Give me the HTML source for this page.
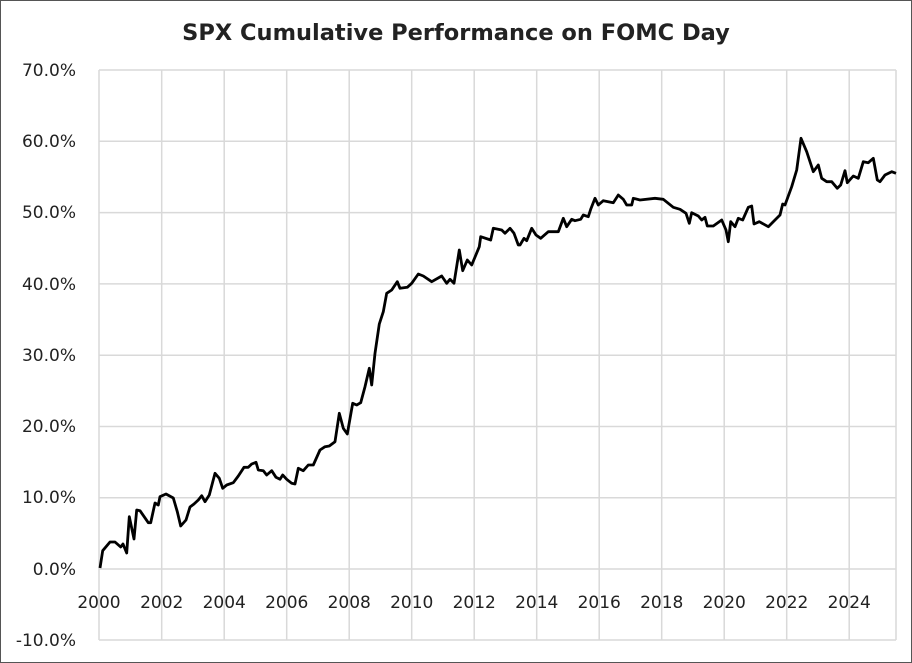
<!DOCTYPE html>
<html><head><meta charset="utf-8"><style>
html,body{margin:0;padding:0;background:#fff}
svg{display:block}
text{font-family:"DejaVu Sans","Liberation Sans",sans-serif;fill:#222}
</style></head><body>
<svg width="912" height="663" viewBox="0 0 912 663">
<rect x="0.5" y="0.5" width="911" height="662" fill="#fff" stroke="#555"/>
<text x="456" y="40" text-anchor="middle" font-size="22.5" font-weight="bold" fill="#111">SPX Cumulative Performance on FOMC Day</text>
<g stroke="#d9d9d9" stroke-width="1.5">
<line x1="99" y1="70" x2="896" y2="70"/><line x1="99" y1="141.3" x2="896" y2="141.3"/>
<line x1="99" y1="212.6" x2="896" y2="212.6"/><line x1="99" y1="283.9" x2="896" y2="283.9"/>
<line x1="99" y1="355.2" x2="896" y2="355.2"/><line x1="99" y1="426.5" x2="896" y2="426.5"/>
<line x1="99" y1="497.8" x2="896" y2="497.8"/><line x1="99" y1="569" x2="896" y2="569"/>
<line x1="99" y1="640" x2="896" y2="640"/>
<line x1="99" y1="70" x2="99" y2="640"/><line x1="161.7" y1="70" x2="161.7" y2="640"/>
<line x1="224.2" y1="70" x2="224.2" y2="640"/><line x1="286.7" y1="70" x2="286.7" y2="640"/>
<line x1="349.2" y1="70" x2="349.2" y2="640"/><line x1="411.7" y1="70" x2="411.7" y2="640"/>
<line x1="474.2" y1="70" x2="474.2" y2="640"/><line x1="536.7" y1="70" x2="536.7" y2="640"/>
<line x1="599.2" y1="70" x2="599.2" y2="640"/><line x1="661.7" y1="70" x2="661.7" y2="640"/>
<line x1="724.2" y1="70" x2="724.2" y2="640"/><line x1="786.7" y1="70" x2="786.7" y2="640"/>
<line x1="849.2" y1="70" x2="849.2" y2="640"/><line x1="896" y1="70" x2="896" y2="640"/>
</g>
<g font-size="17" text-anchor="end">
<text x="76" y="76">70.0%</text><text x="76" y="147">60.0%</text><text x="76" y="218">50.0%</text>
<text x="76" y="290">40.0%</text><text x="76" y="361">30.0%</text><text x="76" y="432">20.0%</text>
<text x="76" y="503">10.0%</text><text x="76" y="575">0.0%</text><text x="76" y="646">-10.0%</text>
</g>
<g font-size="17" text-anchor="middle">
<text x="99" y="608">2000</text><text x="161.7" y="608">2002</text><text x="224.2" y="608">2004</text>
<text x="286.7" y="608">2006</text><text x="349.2" y="608">2008</text><text x="411.7" y="608">2010</text>
<text x="474.2" y="608">2012</text><text x="536.7" y="608">2014</text><text x="599.2" y="608">2016</text>
<text x="661.7" y="608">2018</text><text x="724.2" y="608">2020</text><text x="786.7" y="608">2022</text>
<text x="849.2" y="608">2024</text>
</g>
<polyline fill="none" stroke="#000" stroke-width="2.8" stroke-linejoin="round" points="
100,568 102.7,550.7 110,542 115,542 120.7,547 123,544 126.7,553 129.3,516.7 134,539 136.7,510 140,510.7 148.3,522.7 150.7,522.7 155,503 158.3,505 160,496.7 166,494 173.3,498 177.3,511.7 180.7,526 186,520 190,507 194,504 198.3,500 201.7,495.7 205,501.7 209.3,495 215,473.3 219.3,478.3 222.7,488.3 226.7,485 233.3,482.7 238.3,476 244,467.3 248.3,467.3 251.7,464 256,462.3 258.3,470 263.3,470.7 266.7,475 271.7,470.7 276,477.3 280,479.3 282.7,475 286.7,479.3 291.7,483.3 295,484 298.3,468.3 303.3,470.7 308.3,465 313.3,465 320,450 325,446.7 329.3,446 335,441.7 339.3,413.3 343.3,428.3 347.3,434 352.7,403.3 356.7,405 360.7,402.7 365,386.7 369.3,368.3 371.7,385 375,353.3 379.3,324 383.3,311.7 386.7,293.3 391.7,290 397.3,281.7 400,288.3 407.3,287.3 411.7,283.3 418.3,274 423.3,276 431.7,281.7 441.7,276 446.7,283.3 450,279.3 454,283.3 459.3,250 462.7,270.7 467.3,260 471.7,265 479.3,246.7 480.7,236.7 490.7,240 493.3,228.3 501.7,230 505,233.3 510,228.3 514,233.3 518.3,245 520,245 524,238.3 526.7,240.7 531.7,228.3 536,235 540.7,238.3 548.3,231.7 558.3,231.7 563.3,218.3 566.7,226.7 571.7,219.3 575,220.7 580.7,219.3 583.3,215 588.3,216.7 590.7,209.3 595,198.3 598.3,205 603.3,200.7 613.3,202.7 618.3,195 623.3,199.3 626.7,205 631.7,205 633.3,198.3 640,200 655,198.3 663.3,199.3 668.3,203.3 673.3,207.3 680,209.3 686,213.3 689.3,223.3 691.7,212.7 698.3,216 701.7,220 705,217.3 707.3,226 713.3,226 721.7,220 726,230 728.3,241.7 730.7,221.7 735,226.7 738.3,218.3 742.7,220 748.3,207.3 751.7,206 754,224 759.3,221.7 768.3,226.7 775,220 780,215 782.7,204 785,205 791.7,186.7 796.7,170 801,138.3 806.7,151.7 813.3,171.7 818.3,165 821.7,178.3 826.7,181.7 831.7,181.7 837.3,188.3 840.7,185 845,170.7 847.3,182.7 853.3,176 858.3,178.3 863.3,161.7 868.3,162.7 873.3,158.3 877.3,180 880,181.7 885,175 891.7,171.7 896,173.3"/>
</svg>
</body></html>
